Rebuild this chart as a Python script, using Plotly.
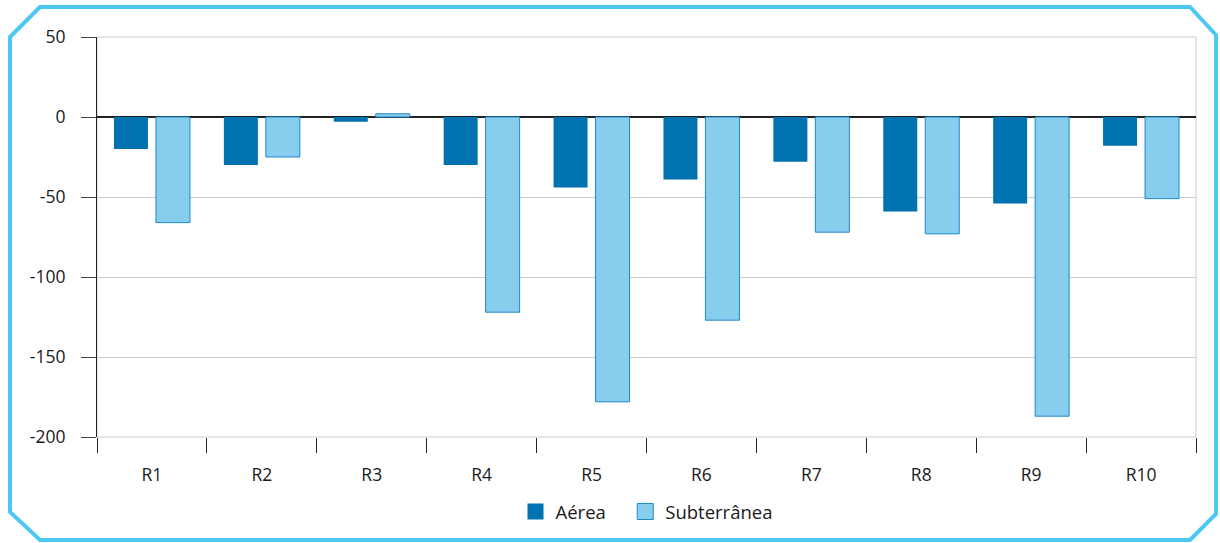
import plotly.graph_objects as go

categories = ["R1", "R2", "R3", "R4", "R5", "R6", "R7", "R8", "R9", "R10"]
aerea = [-20, -30, -3, -30, -44, -39, -28, -59, -54, -18]
subterranea = [-66, -25, 2, -122, -178, -127, -72, -73, -187, -51]
y_ticks = [50, 0, -50, -100, -150, -200]
y_tick_labels = ["50", "0", "-50", "-100", "-150", "-200"]
series_names = ["Aérea", "Subterrânea"]

FONT = "Open Sans"
FS = 17.5
C_AEREA = "#0072B0"
C_SUB = "#87CEEE"
C_SUB_LINE = "#1E88C7"
NB = "\u00a0"

fig = go.Figure()
fig.add_trace(go.Bar(x=categories, y=aerea, name=series_names[0], showlegend=False,
                     marker=dict(color=C_AEREA, line=dict(width=0))))
fig.add_trace(go.Bar(x=categories, y=subterranea, name=series_names[1], showlegend=False,
                     marker=dict(color=C_SUB, line=dict(color=C_SUB_LINE, width=1))))
# legend entries with larger square swatches
fig.add_trace(go.Scatter(x=[None], y=[None], mode="markers", name=series_names[0] + NB * 3,
                         marker=dict(symbol="square", size=16, color=C_AEREA,
                                     line=dict(width=0))))
fig.add_trace(go.Scatter(x=[None], y=[None], mode="markers", name=series_names[1],
                         marker=dict(symbol="square", size=16, color=C_SUB,
                                     line=dict(color=C_SUB_LINE, width=1))))

W, H = 1220, 543
L, R, T, B = 97, 24, 37, 106
pw, ph = W - L - R, H - T - B

def px(x):
    return (x - L) / pw

def py(y):
    return (H - B - y) / ph

pts = [(10, 37), (40, 7), (1190, 7), (1216, 35), (1216, 514), (1190, 540), (40, 540), (10, 512)]
path = "M " + " L ".join(f"{px(x):.5f},{py(y):.5f}" for x, y in pts) + " Z"

fig.update_layout(
    width=W, height=H,
    margin=dict(l=L, r=R, t=T, b=B),
    paper_bgcolor="white", plot_bgcolor="white",
    font=dict(family=FONT, size=FS, color="#1a1a1a"),
    barmode="group", bargap=0.236, bargroupgap=0.19,
    showlegend=True,
    legend=dict(orientation="h", x=0.5, xanchor="center", y=-0.14, yanchor="top",
                font=dict(family=FONT, size=18.5, color="#1a1a1a"),
                itemwidth=30, traceorder="normal"),
    shapes=[
        dict(type="rect", xref="paper", yref="paper", x0=0, x1=1, y0=0, y1=1,
             line=dict(color="#CCCCCC", width=1), layer="below"),
        dict(type="path", xref="paper", yref="paper", path=path,
             line=dict(color="#4CC8F2", width=4), layer="above"),
    ],
)
fig.update_xaxes(
    type="category", tickson="boundaries", ticks="outside", ticklen=15,
    tickcolor="#222222", tickwidth=1, showgrid=False, showline=False,
    ticklabelstandoff=25, tickfont=dict(size=FS, family=FONT),
)
fig.update_yaxes(
    range=[-200, 50], tickvals=y_ticks, ticktext=y_tick_labels,
    ticks="outside", ticklen=15,
    tickcolor="#444444", showgrid=True, gridcolor="#CCCCCC", gridwidth=1,
    showline=True, linecolor="#222222", linewidth=1,
    zeroline=True, zerolinecolor="#222222", zerolinewidth=1.5,
    tickfont=dict(size=FS, family=FONT), ticklabelstandoff=12,
)
fig.write_html("out.html", config={"displayModeBar": False},
               post_script="document.body.style.margin='0';")
